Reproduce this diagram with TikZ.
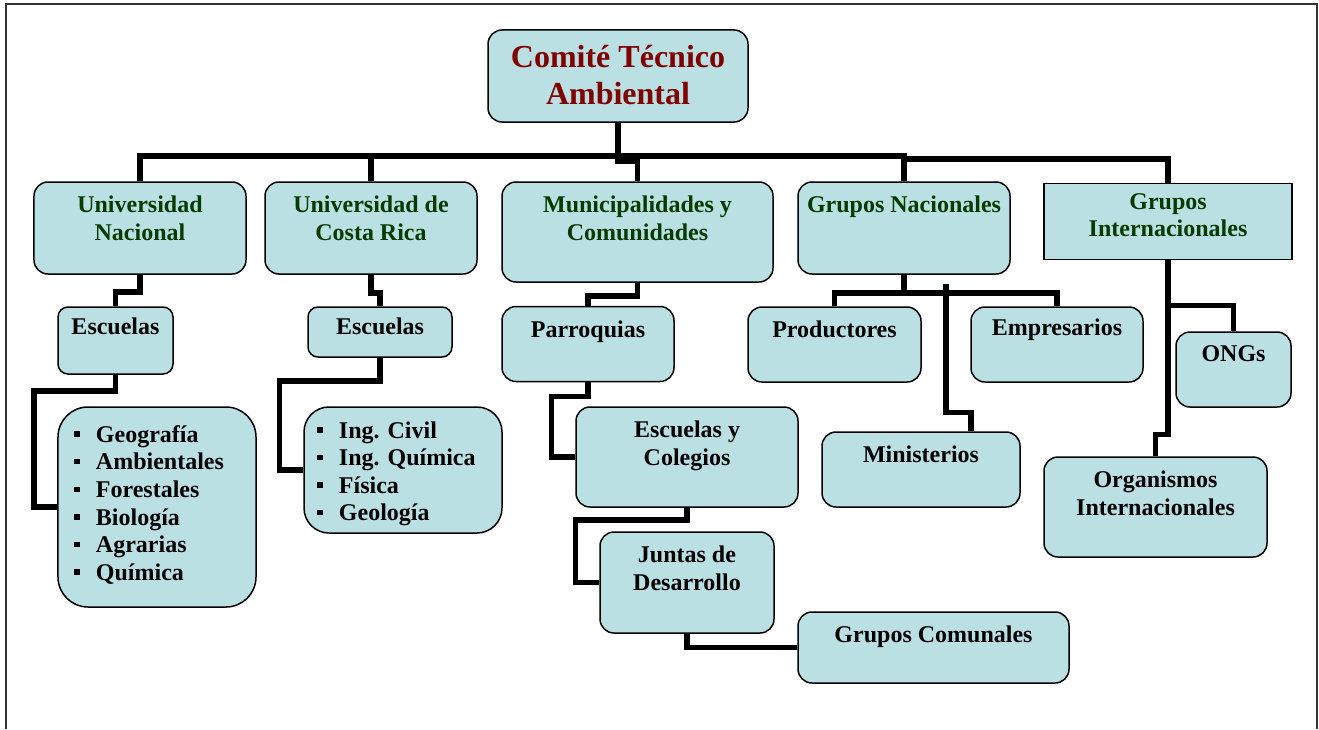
\documentclass[tikz,border=0pt]{standalone}
\usepackage{fontspec}
\setmainfont{Liberation Serif}
\definecolor{boxfill}{RGB}{187,224,227}
\definecolor{titlered}{RGB}{128,0,0}
\definecolor{groupgreen}{RGB}{0,60,0}
\newcommand{\sqbullet}{\rule[5.5bp]{5.5bp}{5.5bp}\hspace{16bp}}
\tikzset{
  box/.style={draw, line width=1.5bp, fill=boxfill, rounded corners=14bp, inner sep=0pt},
  lbl/.style={anchor=north, yshift=-14.5bp, align=center, inner sep=0pt,
    font=\fontsize{24bp}{27.6bp}\selectfont\bfseries},
  txt/.style={label={[lbl]north:#1}},
  grp/.style={label={[lbl,text=groupgreen]north:#1}},
  link/.style={line width=5.5bp},
}
\begin{document}
\begin{tikzpicture}[x=1bp,y=-1bp]
            \useasboundingbox (0,0) rectangle (1319,729);
            \draw[line width=1.5bp, black!80] (6,729) -- (6,4) -- (1317,4) -- (1317,729);

            % top and first row
            \node[box, minimum width=260bp, minimum height=92bp,
              label={[lbl, yshift=-1.5bp, text=titlered, font=\fontsize{32bp}{37bp}\selectfont\bfseries]north:Comité Técnico\\Ambiental}] (top) at (618,76) {};
            \node[box, minimum width=212bp, minimum height=92bp, grp={Universidad\\Nacional}] (un) at (140,228) {};
            \node[box, minimum width=212bp, minimum height=92bp, grp={Universidad de\\Costa Rica}] (ucr) at (371,228) {};
            \node[box, minimum width=271bp, minimum height=100bp, grp={Municipalidades y\\Comunidades}] (mun) at (637.5,232) {};
            \node[box, minimum width=212bp, minimum height=92bp, grp={Grupos Nacionales}] (gn) at (904,228) {};
            \node[box, sharp corners, minimum width=248bp, minimum height=76bp,
              label={[lbl, yshift=4bp, text=groupgreen]north:Grupos\\Internacionales}] (gi) at (1168,221.5) {};

            % second row
            \node[box, rounded corners=10bp, minimum width=115bp, minimum height=67bp,
              label={[lbl, yshift=3bp]north:Escuelas}] (esc1) at (115.5,340.5) {};
            \node[box, rounded corners=10bp, minimum width=144bp, minimum height=50bp,
              label={[lbl, yshift=3bp]north:Escuelas}] (esc2) at (380,332) {};
            \node[box, minimum width=172bp, minimum height=75bp, txt={Parroquias}] (par) at (588,344) {};
            \node[box, minimum width=173bp, minimum height=75bp, txt={Productores}] (prod) at (834.5,344.5) {};
            \node[box, minimum width=172bp, minimum height=75bp,
              label={[lbl, yshift=2bp]north:Empresarios}] (emp) at (1057,344.5) {};
            \node[box, minimum width=115bp, minimum height=75bp, txt={ONGs}] (ongs) at (1233.5,369.5) {};

            % lists and lower boxes
            \node[box, rounded corners=30bp, minimum width=198bp, minimum height=200bp,
              label={[lbl, anchor=north west, align=left, xshift=17bp, yshift=-4.5bp]north west:%
                \sqbullet Geografía\\\sqbullet Ambientales\\\sqbullet Forestales\\%
                \sqbullet Biología\\\sqbullet Agrarias\\\sqbullet Química}] (lst1) at (157,507) {};
            \node[box, rounded corners=25bp, minimum width=198bp, minimum height=126bp,
              label={[lbl, anchor=north west, align=left, xshift=14bp, yshift=-0.5bp]north west:%
                \sqbullet Ing. Civil\\\sqbullet Ing. Química\\\sqbullet Física\\\sqbullet Geología}] (lst2) at (403,470) {};
            \node[box, minimum width=222bp, minimum height=100bp, txt={Escuelas y\\Colegios}] (eyc) at (687,457) {};
            \node[box, minimum width=174bp, minimum height=101bp, txt={Juntas de\\Desarrollo}] (jun) at (687,582.5) {};
            \node[box, minimum width=271bp, minimum height=71bp, txt={Grupos Comunales}] (gc) at (933.5,647.5) {};
            \node[box, minimum width=198bp, minimum height=75bp, txt={Ministerios}] (min) at (921,469.5) {};
            \node[box, minimum width=223bp, minimum height=100bp, txt={Organismos\\Internacionales}] (org) at (1155.5,507) {};

            % connectors
            \coordinate (bus) at (0,156);
            \coordinate (bus2) at (0,159);
            \draw[link] (top.south) -- ++(0,38) -| (mun.north);
            \draw[link] (un.north) |- (bus -| gn.north) -- (gn.north);
            \draw[link] (ucr.north) -- (ucr.north |- bus);
            \draw[link] (gn.north |- bus2) -| (gi.north);

            \draw[link] (un.south) -- ++(0,17) -| (esc1.north);
            \draw[link] (ucr.south) -- ++(0,18) -| (esc2.north);
            \draw[link] (mun.south) -- ++(0,13) -| (par.north);
            \draw[link] (esc1.south) -- ++(0,16) -| ([xshift=-23bp]lst1.west) -- (lst1.west);
            \draw[link] (esc2.south) -- ++(0,23) -| ([xshift=-24bp]lst2.west) -- (lst2.west);
            \draw[link] (par.south) -- ++(0,14) -| ([xshift=-24bp]eyc.west) -- (eyc.west);
            \draw[link] (eyc.south) -- ++(0,12) -| ([xshift=-24bp]jun.west) -- (jun.west);
            \draw[link] (jun.south) |- (gc.west);

            \draw[link] (gn.south) -- ++(0,18) coordinate (gnb);
            \draw[link] (prod.north) |- (gnb) -| (emp.north);
            \draw[link] ([xshift=42bp,yshift=-9bp]gn.south) |- ([xshift=50bp,yshift=19bp]min.north) -- ([xshift=50bp]min.north);
            \draw[link] (gi.south) |- ([yshift=26bp]ongs.north) -- (ongs.north);
            \draw[link] (gi.south) -- ++(0,174) -| (org.north);

        \end{tikzpicture}
\end{document}
